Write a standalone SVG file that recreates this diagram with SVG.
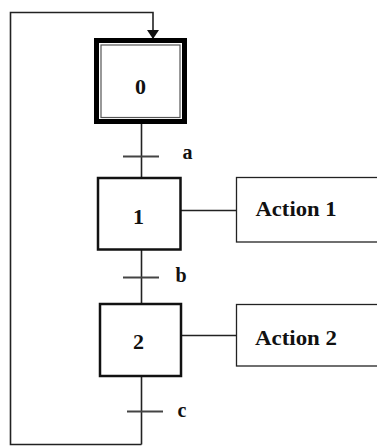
<svg xmlns="http://www.w3.org/2000/svg" width="377" height="446" viewBox="0 0 377 446">
  <style>
    .lbl { font-family: "Liberation Serif", "Times New Roman", serif; font-weight: bold; fill: #111; }
    .step { fill: #fff; stroke: #111; stroke-width: 2.5; }
    .act { fill: #fff; stroke: #222; stroke-width: 1.3; }
    .wire { fill: none; stroke: #222; stroke-width: 1.6; }
    .tick { stroke: #444; stroke-width: 1.8; }
  </style>
  <defs>
    <marker id="arrow" markerWidth="9" markerHeight="12" refX="8" refY="6" orient="auto" markerUnits="userSpaceOnUse">
      <path d="M0,0 L9,6 L0,12 Z" fill="#111"/>
    </marker>
  </defs>
  <rect width="377" height="446" fill="#fff"/>

  <!-- connectors -->
  <g id="connectors">
    <line class="wire" x1="141.5" y1="124" x2="141.5" y2="178"/>
    <line class="wire" x1="141.5" y1="250" x2="141.5" y2="304"/>
    <line class="wire" x1="141.5" y1="377" x2="141.5" y2="444.5"/>
    <polyline class="wire" points="141.5,444.5 10.5,444.5 10.5,12.5 153,12.5 153,38" marker-end="url(#arrow)"/>
    <line class="wire" x1="181" y1="210.5" x2="236.5" y2="210.5"/>
    <line class="wire" x1="182" y1="335.5" x2="236.5" y2="335.5"/>
    <!-- transitions -->
    <line class="tick" x1="123" y1="156.5" x2="159" y2="156.5"/>
    <line class="tick" x1="123" y1="277.5" x2="159" y2="277.5"/>
    <line class="tick" x1="127" y1="411.5" x2="163" y2="411.5"/>
    <text class="lbl" x="182.5" y="159" font-size="20">a</text>
    <text class="lbl" x="175.5" y="282" font-size="20">b</text>
    <text class="lbl" x="177.5" y="417" font-size="20">c</text>
  </g>

  <!-- initial step 0 -->
  <g id="step0">
    <rect x="96.5" y="40.5" width="88" height="81" fill="#fff" stroke="#000" stroke-width="5"/>
    <rect x="101" y="45" width="79" height="72.5" fill="none" stroke="#555" stroke-width="1.2"/>
    <text class="lbl" x="140.5" y="94" font-size="22" text-anchor="middle">0</text>
  </g>

  <!-- step 1 -->
  <g id="step1">
    <rect class="step" x="98" y="178" width="82.5" height="71.5"/>
    <text class="lbl" x="138.5" y="224" font-size="22" text-anchor="middle">1</text>
  </g>

  <!-- step 2 -->
  <g id="step2">
    <rect class="step" x="100" y="304" width="81" height="72"/>
    <text class="lbl" x="138.5" y="349" font-size="22" text-anchor="middle">2</text>
  </g>

  <!-- actions -->
  <g id="action1">
    <rect class="act" x="236.5" y="177.5" width="150" height="64.5"/>
    <text class="lbl" x="255.5" y="216" font-size="22" textLength="81" lengthAdjust="spacingAndGlyphs">Action 1</text>
  </g>
  <g id="action2">
    <rect class="act" x="236.5" y="304.5" width="150" height="61.5"/>
    <text class="lbl" x="255" y="345" font-size="22" textLength="82" lengthAdjust="spacingAndGlyphs">Action 2</text>
  </g>
</svg>
